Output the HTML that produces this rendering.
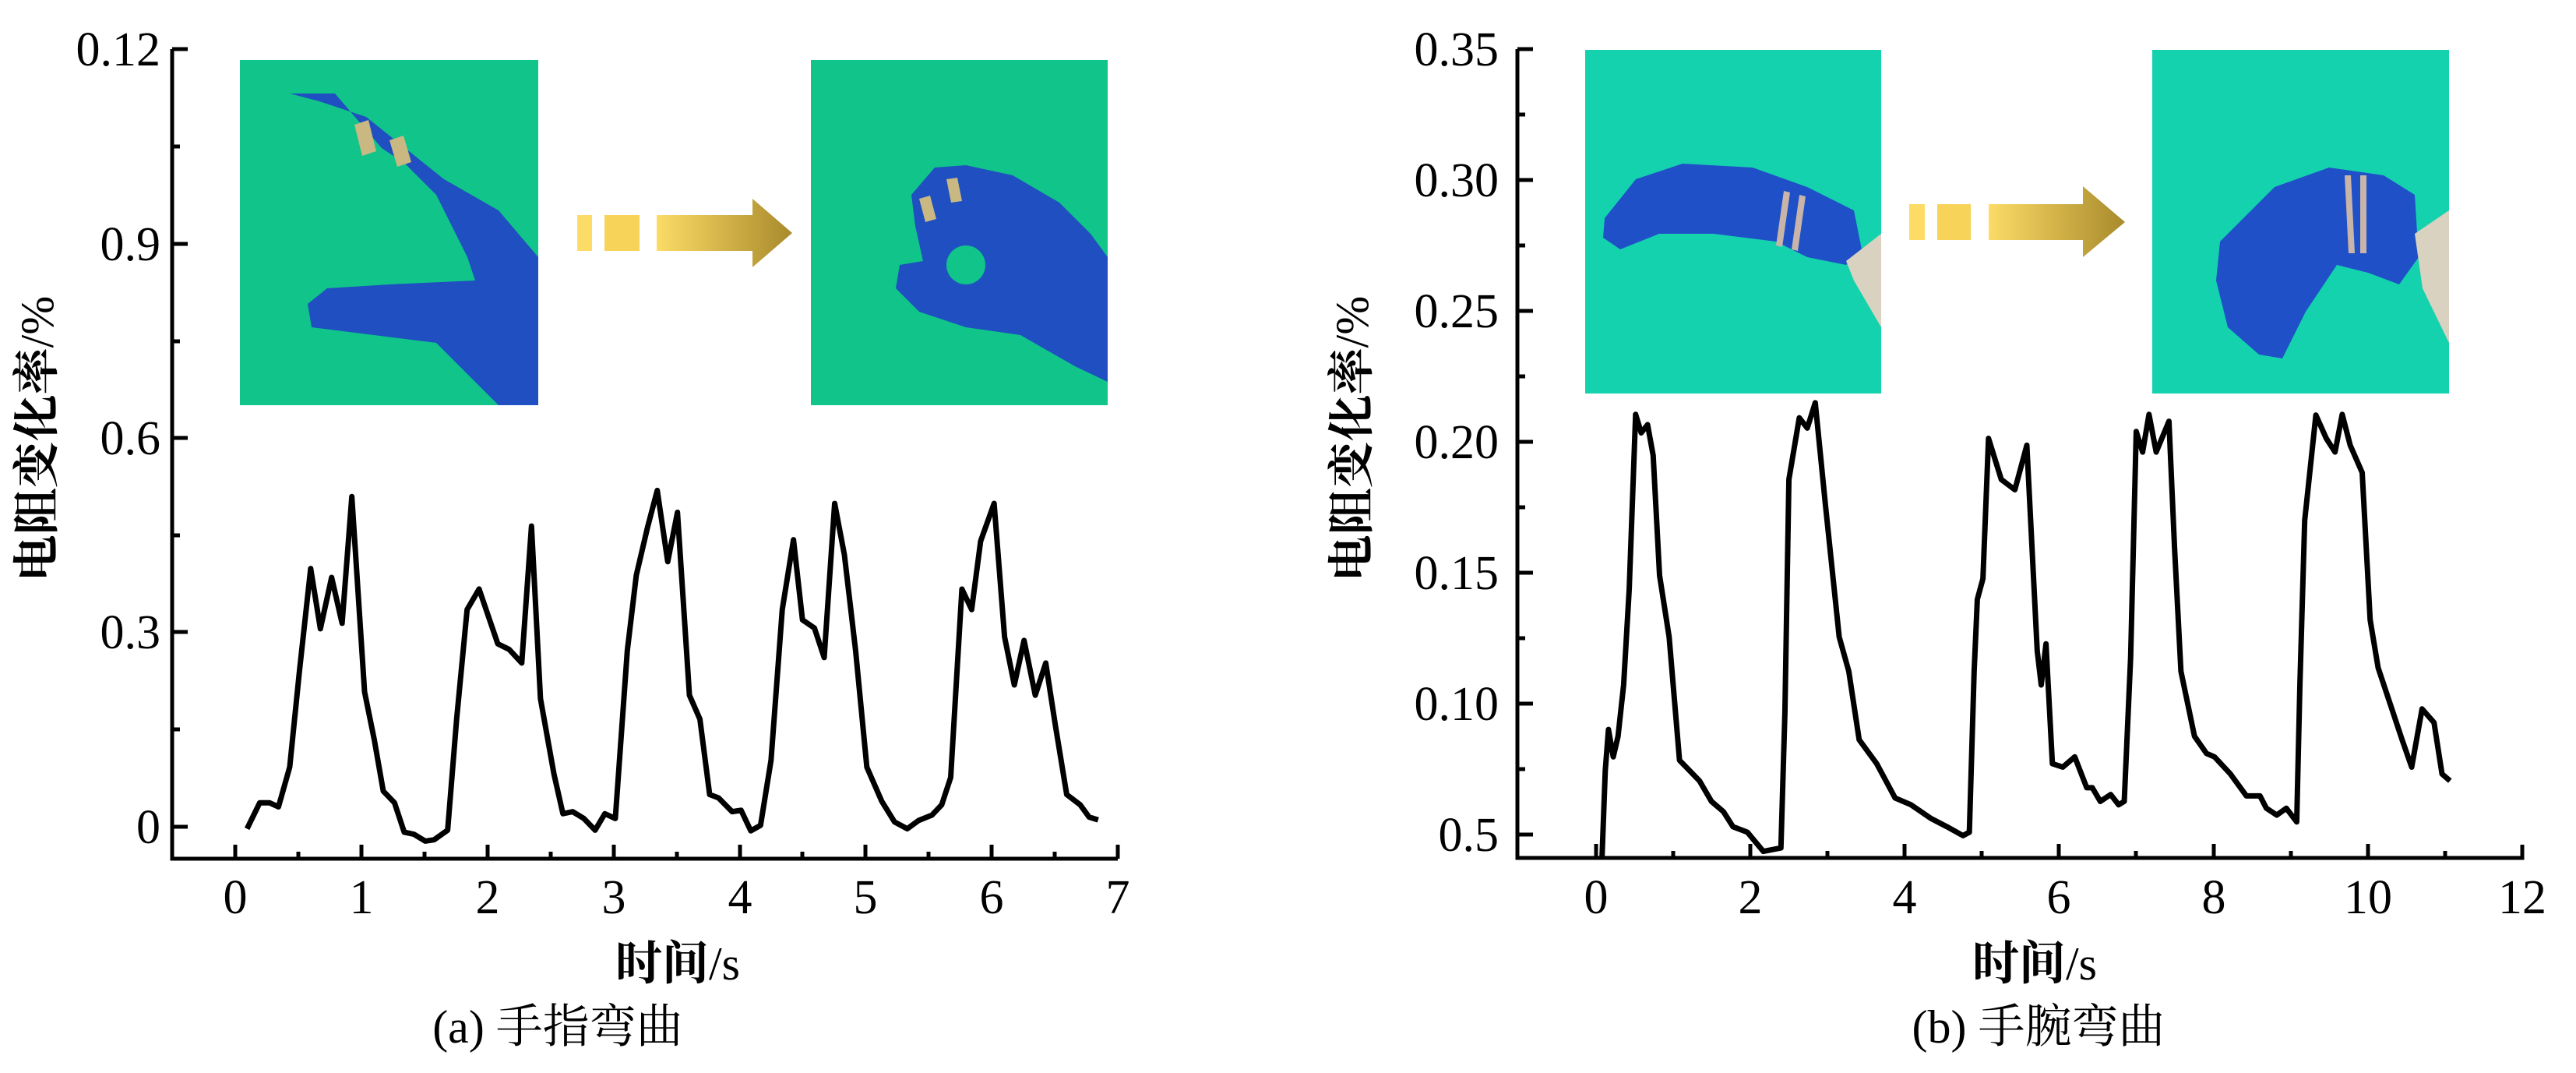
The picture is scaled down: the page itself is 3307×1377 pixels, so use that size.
<!DOCTYPE html>
<html><head><meta charset="utf-8"><style>
html,body{margin:0;padding:0;background:#fff}
svg{display:block}
text{font-family:"Liberation Serif","Noto Serif CJK SC","Noto Sans CJK SC",serif;fill:#000}
.cj{font-weight:bold}
</style></head><body>
<svg width="3307" height="1377" viewBox="0 0 3307 1377" xmlns="http://www.w3.org/2000/svg">
<defs>
<linearGradient id="ag" x1="0" x2="1" y1="0" y2="0"><stop offset="0" stop-color="#fcdc66"/><stop offset="1" stop-color="#a88a2c"/></linearGradient>
</defs>

<!-- LEFT CHART -->
<g stroke="#000" stroke-width="5" fill="none">
<path d="M221,63 V1102 H1435"/>
<path d="M221,63h20M221,313h20M221,562h20M221,811h20M221,1061h20"/>
<path d="M221,188h10M221,438h10M221,687h10M221,936h10"/>
<path d="M302,1102v-18M464,1102v-18M626,1102v-18M788,1102v-18M950,1102v-18M1111,1102v-18M1273,1102v-18M1435,1102v-18"/>
<path d="M383,1102v-9M545,1102v-9M707,1102v-9M869,1102v-9M1030,1102v-9M1192,1102v-9M1354,1102v-9"/>
</g>
<g font-size="62" text-anchor="end">
<text x="206" y="84">0.12</text><text x="206" y="334">0.9</text><text x="206" y="583">0.6</text><text x="206" y="832">0.3</text><text x="206" y="1082">0</text>
</g>
<g font-size="62" text-anchor="middle">
<text x="302" y="1172">0</text><text x="464" y="1172">1</text><text x="626" y="1172">2</text><text x="788" y="1172">3</text><text x="950" y="1172">4</text><text x="1111" y="1172">5</text><text x="1273" y="1172">6</text><text x="1435" y="1172">7</text>
<text x="870" y="1257" font-size="60" class="cj">时间<tspan font-weight="normal">/s</tspan></text>
<text x="716" y="1338" font-size="60">(a) 手指弯曲</text>
</g>
<text transform="translate(68,563) rotate(-90)" font-size="60" text-anchor="middle" class="cj">电阻变化率<tspan font-weight="normal">/%</tspan></text>

<!-- left photos -->
<rect x="308" y="77" width="383" height="443" fill="#10c48a"/>
<path d="M372,120 L430,120 L490,190 L520,210 L560,250 L600,330 L610,360 L500,365 L420,370 L395,390 L400,420 L560,440 L640,520 L691,520 L691,330 L640,270 L570,230 L520,190 L470,150 L410,130 Z" fill="#1f4fc0"/>
<path d="M455,160 l18,-6 l10,40 l-18,6z M500,180 l18,-6 l10,34 l-18,6z" fill="#c9b882"/>
<rect x="741" y="276" width="19" height="46" fill="#fcdc66"/>
<rect x="776" y="276" width="45" height="46" fill="#f7d35a"/>
<path d="M843,276 H966 V255 L1017,299 L966,343 V322 H843 Z" fill="url(#ag)"/>
<rect x="1041" y="77" width="381" height="443" fill="#10c48a"/>
<path d="M1170,250 L1200,215 L1240,212 L1300,225 L1360,260 L1400,300 L1422,330 L1422,490 L1380,470 L1310,430 L1240,420 L1180,400 L1150,370 L1155,340 L1185,335 L1175,290 Z" fill="#1f4fc0"/>
<circle cx="1240" cy="340" r="25" fill="#10c48a"/>
<path d="M1180,255 l14,-4 l8,30 l-14,4z M1215,230 l14,-2 l6,30 l-14,2z" fill="#c9b882"/>

<g transform="scale(0.961,0.879)">
<polyline fill="none" stroke="#000" stroke-width="7" vector-effect="non-scaling-stroke" stroke-linejoin="round" points="330,1210 347,1172 360,1172 372,1178 387,1120 400,980 415,830 428,918 443,843 457,910 470,725 487,1010 500,1080 512,1155 527,1172 540,1215 553,1218 568,1228 580,1226 598,1212 610,1050 624,890 640,860 665,940 680,948 697,968 710,768 722,1020 740,1130 752,1188 765,1185 780,1195 795,1212 808,1188 822,1195 838,950 850,840 865,770 878,716 892,820 905,748 921,1015 935,1050 948,1160 960,1165 978,1185 990,1183 1003,1213 1016,1205 1030,1110 1045,890 1060,788 1072,905 1088,917 1101,960 1115,735 1128,810 1143,950 1158,1120 1178,1170 1195,1200 1212,1210 1227,1198 1245,1190 1258,1175 1270,1135 1285,860 1298,890 1310,790 1328,735 1342,930 1355,1000 1368,935 1383,1015 1397,968 1410,1060 1425,1160 1443,1175 1455,1193 1467,1197"/>
</g>

<!-- RIGHT CHART -->
<g stroke="#000" stroke-width="5" fill="none">
<path d="M1948,63 V1101 H3238 V1084"/>
<path d="M1948,63h20M1948,231h20M1948,399h20M1948,567h20M1948,735h20M1948,903h20M1948,1071h20"/>
<path d="M1948,147h10M1948,315h10M1948,483h10M1948,651h10M1948,819h10M1948,987h10"/>
<path d="M2049,1101v-18M2247,1101v-18M2445,1101v-18M2643,1101v-18M2842,1101v-18M3040,1101v-18"/>
<path d="M2148,1101v-9M2346,1101v-9M2544,1101v-9M2742,1101v-9M2941,1101v-9M3139,1101v-9"/>
</g>
<g font-size="62" text-anchor="end">
<text x="1924" y="84">0.35</text><text x="1924" y="252">0.30</text><text x="1924" y="420">0.25</text><text x="1924" y="588">0.20</text><text x="1924" y="756">0.15</text><text x="1924" y="924">0.10</text><text x="1924" y="1092">0.5</text>
</g>
<g font-size="62" text-anchor="middle">
<text x="2049" y="1172">0</text><text x="2247" y="1172">2</text><text x="2445" y="1172">4</text><text x="2643" y="1172">6</text><text x="2842" y="1172">8</text><text x="3040" y="1172">10</text><text x="3238" y="1172">12</text>
<text x="2612" y="1257" font-size="60" class="cj">时间<tspan font-weight="normal">/s</tspan></text>
<text x="2617" y="1338" font-size="60">(b) 手腕弯曲</text>
</g>
<text transform="translate(1756,563) rotate(-90)" font-size="60" text-anchor="middle" class="cj">电阻变化率<tspan font-weight="normal">/%</tspan></text>

<rect x="2035" y="64" width="380" height="441" fill="#15d2ae"/>
<path d="M2060,280 L2100,230 L2160,210 L2250,215 L2320,240 L2380,270 L2390,320 L2370,340 L2320,330 L2280,310 L2200,300 L2130,300 L2080,320 L2058,305 Z" fill="#1f50c8"/>
<path d="M2370,335 L2415,300 L2415,420 L2380,360 Z" fill="#d9d2c0"/>
<path d="M2290,245 l8,2 l-10,70 l-8,-2z M2310,250 l8,2 l-10,70 l-8,-2z" fill="#c8b4a8"/>
<rect x="2451" y="262" width="20" height="46" fill="#fcdc66"/>
<rect x="2487" y="262" width="43" height="46" fill="#f7d35a"/>
<path d="M2553,262 H2674 V239 L2728,285 L2674,330 V308 H2553 Z" fill="url(#ag)"/>
<rect x="2763" y="64" width="381" height="441" fill="#15d2ae"/>
<path d="M2850,310 L2920,240 L2990,215 L3060,225 L3100,250 L3105,330 L3080,365 L3040,350 L3000,340 L2960,400 L2930,460 L2900,455 L2860,420 L2845,360 Z" fill="#1f50c8"/>
<path d="M3100,300 L3144,270 L3144,440 L3110,370 Z" fill="#d9d2c0"/>
<path d="M3010,225 l8,0 l5,100 l-8,0z M3030,225 l8,0 l0,100 l-8,0z" fill="#c8b4a8"/>

<g transform="translate(1700,0) scale(1.025,0.879)">
<polyline fill="none" stroke="#000" stroke-width="7" vector-effect="non-scaling-stroke" stroke-linejoin="round" points="348,1250 352,1125 356,1065 362,1105 368,1075 375,1000 382,860 390,605 397,632 405,620 412,665 420,840 432,930 445,1110 470,1140 485,1170 500,1185 512,1207 530,1215 550,1243 572,1238 577,1040 582,700 595,610 605,625 615,588 628,740 645,930 657,980 670,1080 692,1115 715,1165 735,1175 760,1195 780,1207 800,1220 808,1215 814,980 818,875 825,845 832,640 848,700 865,715 880,650 893,950 898,1000 904,940 912,1115 925,1120 940,1105 955,1150 962,1150 972,1170 985,1160 995,1175 1002,1170 1010,960 1017,630 1025,660 1033,605 1042,660 1058,615 1065,800 1073,980 1090,1075 1105,1100 1115,1105 1135,1130 1155,1162 1172,1162 1180,1180 1193,1190 1205,1180 1218,1200 1222,1000 1228,760 1242,606 1255,640 1266,660 1275,605 1285,650 1300,690 1310,905 1320,975 1350,1080 1362,1120 1375,1035 1390,1055 1400,1130 1410,1140"/>
</g>
</svg>
</body></html>
